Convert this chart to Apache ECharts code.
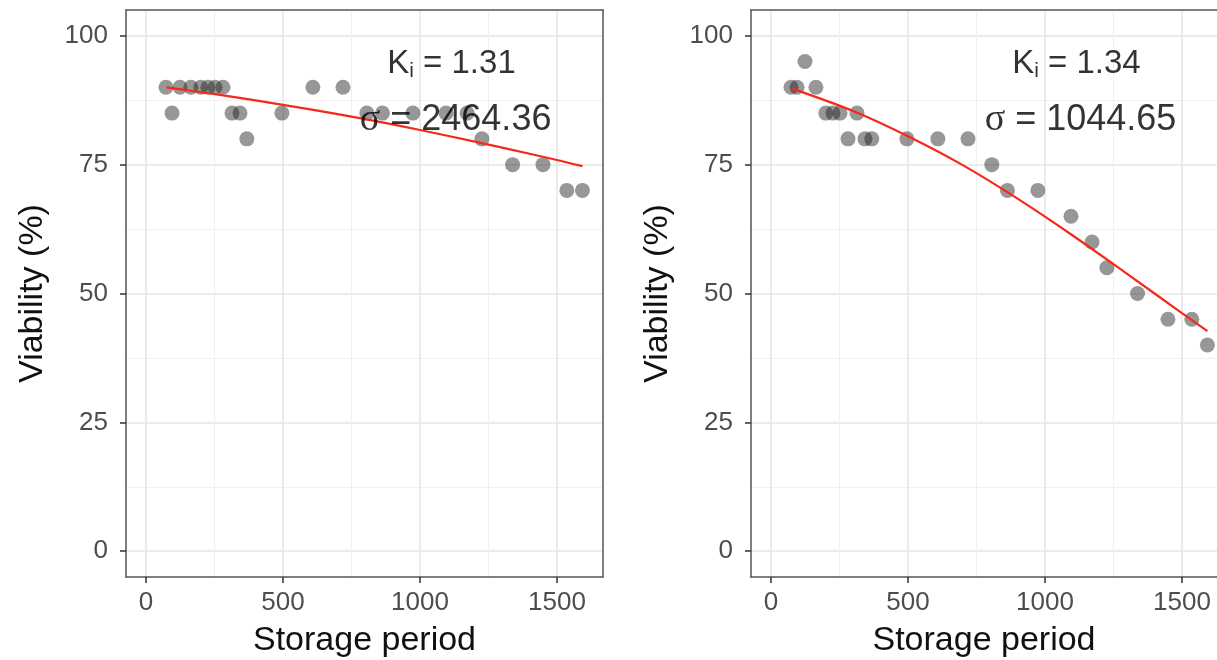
<!DOCTYPE html>
<html>
<head>
<meta charset="utf-8">
<script src="https://cdn.jsdelivr.net/npm/echarts@6/dist/echarts.min.js"></script>
<style>
  html, body { margin: 0; padding: 0; background: #fff; }
  #viabilityCanvas { width: 1217px; height: 660px; }
</style>
</head>
<body>
<div id="viabilityCanvas"></div>
<script>
// storage period (same sampling days for both lots)
const storageDays = [73, 95, 124, 164, 200, 226, 252, 281, 314, 343, 368, 496, 609, 719, 806, 863, 974, 1095, 1172, 1226, 1338, 1449, 1536, 1593];
const viabilityLotA = [90, 85, 90, 90, 90, 90, 90, 90, 85, 85, 80, 85, 90, 90, 85, 85, 85, 85, 85, 80, 75, 75, 70, 70];
const viabilityLotB = [90, 90, 95, 90, 85, 85, 85, 80, 85, 80, 80, 80, 80, 80, 75, 70, 70, 65, 60, 55, 50, 45, 45, 40];

// fitted curves (red lines)
const fitDays = [75, 300, 500, 700, 900, 1100, 1300, 1500, 1593];
const fitLotA = [90.0, 88.3, 86.6, 84.8, 82.8, 80.6, 78.3, 75.9, 74.7];
const fitLotB = [89.8, 85.4, 80.5, 74.9, 68.4, 61.3, 53.8, 46.2, 42.7];

const kiValues = ['1.31', '1.34'];
const sigmaValues = ['2464.36', '1044.65'];

const xTicks = [0, 500, 1000, 1500];
const xMinorTicks = [250, 750, 1250];
const yTicks = [0, 25, 50, 75, 100];
const yMinorTicks = [12.5, 37.5, 62.5, 87.5];

const FONT = 'Liberation Sans';
const X_MIN = -73;
const X_MAX = [1668, 1628];   // right panel is cut at the page edge
const Y_MIN = -5, Y_MAX = 105;
const BORDER = {color: '#555', width: 1.5};

function toPairs(xs, ys) {
    return xs.map(function (x, i) { return [x, ys[i]]; });
}

const myChart = echarts.init(document.getElementById('viabilityCanvas'));

const grids = [
    {left: 126, top: 10, width: 477, height: 567, outerBoundsMode: 'none', containLabel: false},
    {left: 751, top: 10, width: 466, height: 567, outerBoundsMode: 'none', containLabel: false}
];

let xAxes = [], yAxes = [], series = [];
const lots = [viabilityLotA, viabilityLotB];
const fits = [fitLotA, fitLotB];

grids.forEach(function (g, gi) {
    // major axis
    xAxes.push({
        type: 'value', gridIndex: gi, min: X_MIN, max: X_MAX[gi],
        name: 'Storage period', nameLocation: 'middle', nameGap: 47,
        nameTextStyle: {fontSize: 34, color: '#111', fontFamily: FONT},
        axisLine: {show: true, onZero: false, lineStyle: BORDER},
        axisTick: {show: true, length: 6, customValues: xTicks, lineStyle: {color: '#333', width: 1.5}},
        axisLabel: {customValues: xTicks, fontSize: 26, color: '#4d4d4d', fontFamily: FONT, margin: 13,
            formatter: function (v) { return String(v); }},
        splitLine: {show: true, lineStyle: {color: '#e6e6e6', width: 1.6}}
    });
    // minor grid lines + top border
    xAxes.push({
        type: 'value', gridIndex: gi, min: X_MIN, max: X_MAX[gi], position: 'top',
        axisLine: {show: true, onZero: false, lineStyle: BORDER},
        axisTick: {show: false, customValues: xMinorTicks},
        axisLabel: {show: false},
        splitLine: {show: true, lineStyle: {color: '#f0f0f0', width: 1}}
    });
    yAxes.push({
        type: 'value', gridIndex: gi, min: Y_MIN, max: Y_MAX,
        name: 'Viability (%)', nameLocation: 'middle', nameGap: 76,
        nameTextStyle: {fontSize: 34, color: '#111', fontFamily: FONT},
        axisLine: {show: true, onZero: false, lineStyle: BORDER},
        axisTick: {show: true, length: 6, customValues: yTicks, lineStyle: {color: '#333', width: 1.5}},
        axisLabel: {customValues: yTicks, fontSize: 26, color: '#4d4d4d', fontFamily: FONT, margin: 18},
        splitLine: {show: true, lineStyle: {color: '#e6e6e6', width: 1.6}}
    });
    yAxes.push({
        type: 'value', gridIndex: gi, min: Y_MIN, max: Y_MAX, position: 'right',
        axisLine: {show: gi === 0, onZero: false, lineStyle: BORDER},
        axisTick: {show: false, customValues: yMinorTicks},
        axisLabel: {show: false},
        splitLine: {show: true, lineStyle: {color: '#f0f0f0', width: 1}}
    });

    const xi = gi * 2, yi = gi * 2;
    series.push({
        type: 'scatter', xAxisIndex: xi, yAxisIndex: yi, z: 3,
        symbolSize: 15,
        itemStyle: {color: 'rgba(30, 30, 30, 0.58)'},
        data: toPairs(storageDays, lots[gi])
    });
    series.push({
        type: 'line', xAxisIndex: xi, yAxisIndex: yi, z: 4,
        smooth: 0.3, showSymbol: false, symbol: 'none',
        lineStyle: {color: '#f5281a', width: 2.2},
        data: toPairs(fitDays, fits[gi])
    });
    // annotations
    series.push({
        type: 'scatter', xAxisIndex: xi, yAxisIndex: yi, z: 5,
        symbolSize: 1, itemStyle: {color: 'rgba(0,0,0,0)'}, silent: true,
        label: {
            show: true, position: 'inside',
            formatter: '{k|K}{sub|i}{k| = ' + kiValues[gi] + '}',
            rich: {
                k: {fontSize: 33, lineHeight: 36, fontFamily: FONT, color: '#000'},
                sub: {fontSize: 21, lineHeight: 21, verticalAlign: 'bottom', fontFamily: FONT, color: '#000'}
            }
        },
        data: [[1115, 94.6]]
    });
    series.push({
        type: 'scatter', xAxisIndex: xi, yAxisIndex: yi, z: 5,
        symbolSize: 1, itemStyle: {color: 'rgba(0,0,0,0)'}, silent: true,
        label: {
            show: true, position: 'inside',
            formatter: '{g|σ}{k| = ' + sigmaValues[gi] + '}',
            rich: {
                g: {fontSize: 38, lineHeight: 38, fontFamily: 'Liberation Serif', color: '#000'},
                k: {fontSize: 36, lineHeight: 38, fontFamily: FONT, color: '#000'}
            }
        },
        data: [[1130, 83.6]]
    });
});

const option = {
    animation: false,
    backgroundColor: '#fff',
    grid: grids,
    xAxis: xAxes,
    yAxis: yAxes,
    series: series
};
myChart.setOption(option);
</script>
</body>
</html>
